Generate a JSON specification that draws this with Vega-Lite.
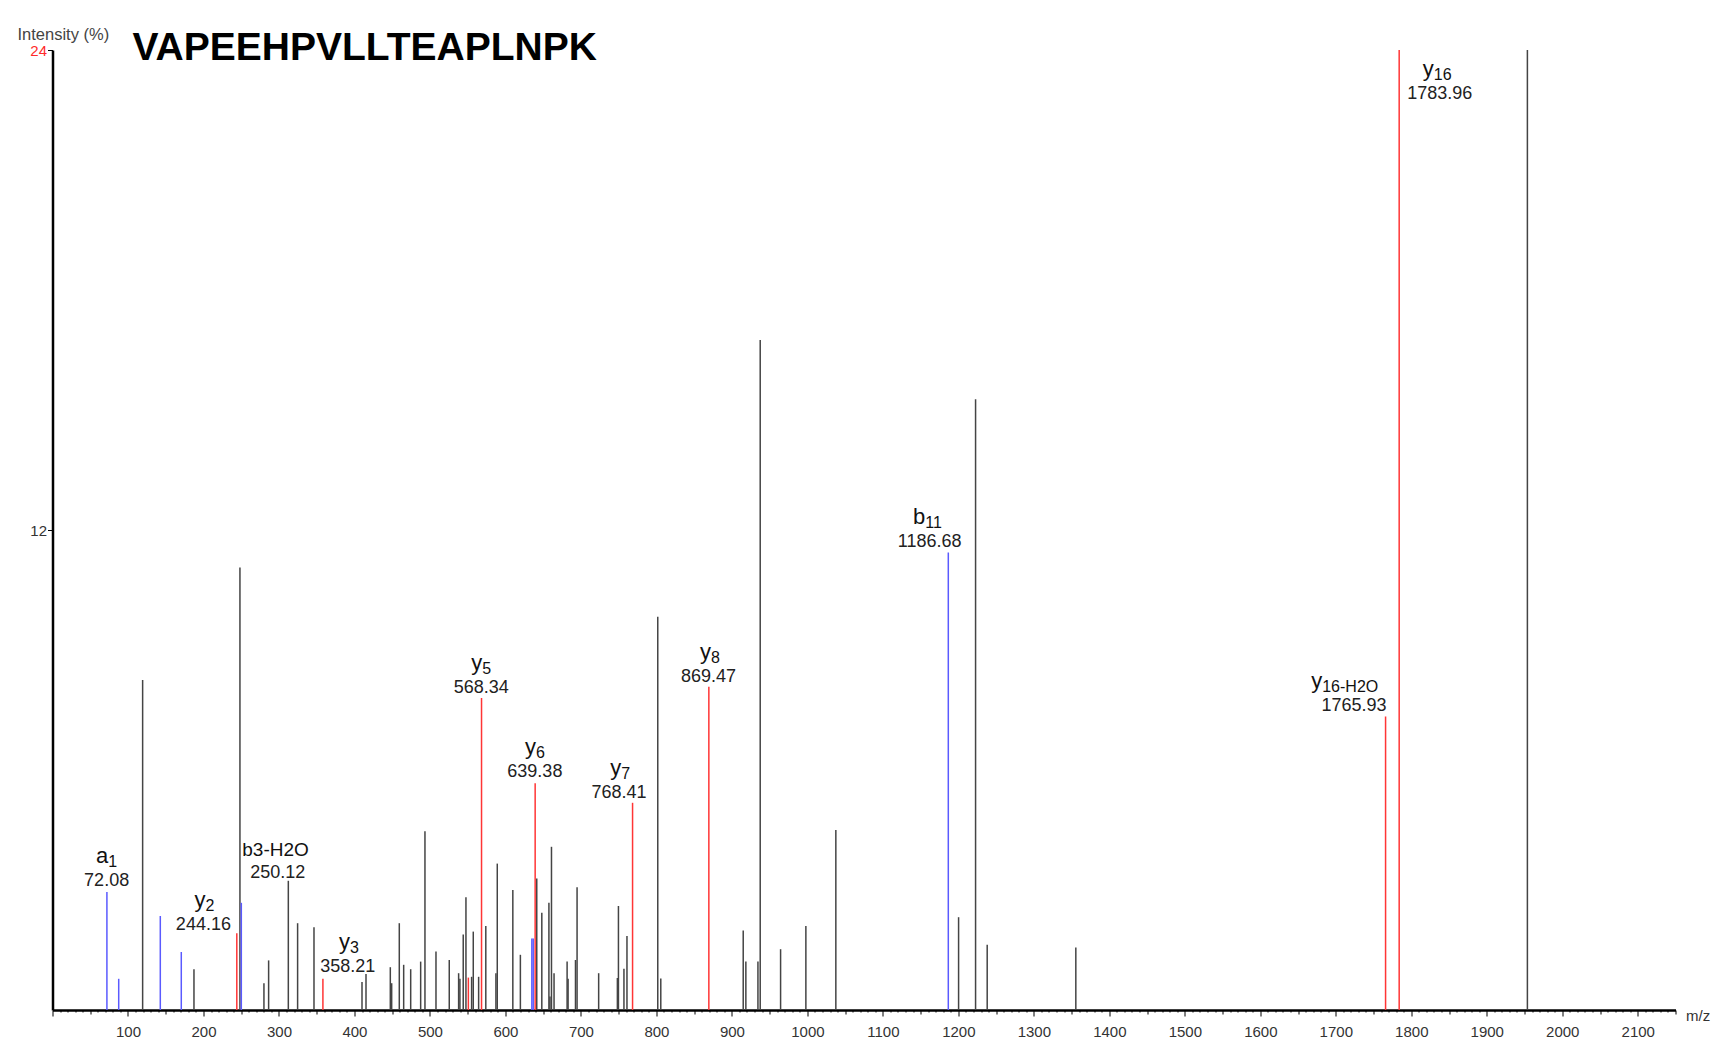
{
  "$schema": "https://vega.github.io/schema/vega-lite/v6.json",
  "width": 1623,
  "height": 960,
  "autosize": "none",
  "padding": {"left": 52.5, "top": 50, "right": 39.5, "bottom": 33},
  "background": "white",
  "config": {"font": "Liberation Sans", "view": {"stroke": null}},
  "title": {"text": "VAPEEHPVLLTEAPLNPK", "anchor": "start", "frame": "group", "fontSize": 39, "fontWeight": "bold", "font": "Liberation Sans", "color": "black", "offset": -61, "dx": 80, "dy": 12, "baseline": "alphabetic"},
  "datasets": {
    "peaks": [
      {"mz": 119.4, "intensity": 8.25, "type": "other"},
      {"mz": 187.4, "intensity": 1.02, "type": "other"},
      {"mz": 248.3, "intensity": 11.06, "type": "other"},
      {"mz": 280.1, "intensity": 0.67, "type": "other"},
      {"mz": 286.3, "intensity": 1.24, "type": "other"},
      {"mz": 312.4, "intensity": 3.23, "type": "other"},
      {"mz": 324.7, "intensity": 2.17, "type": "other"},
      {"mz": 346.4, "intensity": 2.07, "type": "other"},
      {"mz": 410.0, "intensity": 0.70, "type": "other"},
      {"mz": 415.3, "intensity": 0.90, "type": "other"},
      {"mz": 447.5, "intensity": 1.07, "type": "other"},
      {"mz": 449.3, "intensity": 0.67, "type": "other"},
      {"mz": 459.4, "intensity": 2.17, "type": "other"},
      {"mz": 465.2, "intensity": 1.13, "type": "other"},
      {"mz": 474.5, "intensity": 1.02, "type": "other"},
      {"mz": 487.7, "intensity": 1.21, "type": "other"},
      {"mz": 493.4, "intensity": 4.47, "type": "other"},
      {"mz": 508.0, "intensity": 1.46, "type": "other"},
      {"mz": 525.6, "intensity": 1.25, "type": "other"},
      {"mz": 538.0, "intensity": 0.92, "type": "other"},
      {"mz": 539.7, "intensity": 0.78, "type": "other"},
      {"mz": 544.1, "intensity": 1.89, "type": "other"},
      {"mz": 547.7, "intensity": 2.82, "type": "other"},
      {"mz": 555.2, "intensity": 0.83, "type": "other"},
      {"mz": 557.4, "intensity": 1.96, "type": "other"},
      {"mz": 564.5, "intensity": 0.83, "type": "other"},
      {"mz": 574.0, "intensity": 2.10, "type": "other"},
      {"mz": 587.4, "intensity": 0.92, "type": "other"},
      {"mz": 589.2, "intensity": 3.66, "type": "other"},
      {"mz": 609.8, "intensity": 3.00, "type": "other"},
      {"mz": 619.8, "intensity": 1.38, "type": "other"},
      {"mz": 641.5, "intensity": 3.29, "type": "other"},
      {"mz": 648.2, "intensity": 2.43, "type": "other"},
      {"mz": 657.6, "intensity": 2.68, "type": "other"},
      {"mz": 659.0, "intensity": 0.34, "type": "other"},
      {"mz": 661.0, "intensity": 4.08, "type": "other"},
      {"mz": 664.4, "intensity": 0.92, "type": "other"},
      {"mz": 681.7, "intensity": 1.21, "type": "other"},
      {"mz": 683.0, "intensity": 0.78, "type": "other"},
      {"mz": 692.8, "intensity": 1.25, "type": "other"},
      {"mz": 694.9, "intensity": 3.07, "type": "other"},
      {"mz": 723.5, "intensity": 0.92, "type": "other"},
      {"mz": 748.3, "intensity": 0.80, "type": "other"},
      {"mz": 749.7, "intensity": 2.60, "type": "other"},
      {"mz": 757.0, "intensity": 1.03, "type": "other"},
      {"mz": 761.0, "intensity": 1.85, "type": "other"},
      {"mz": 801.8, "intensity": 9.83, "type": "other"},
      {"mz": 805.8, "intensity": 0.79, "type": "other"},
      {"mz": 915.0, "intensity": 1.99, "type": "other"},
      {"mz": 918.5, "intensity": 1.21, "type": "other"},
      {"mz": 934.5, "intensity": 1.21, "type": "other"},
      {"mz": 937.5, "intensity": 16.75, "type": "other"},
      {"mz": 964.5, "intensity": 1.52, "type": "other"},
      {"mz": 998.0, "intensity": 2.10, "type": "other"},
      {"mz": 1037.7, "intensity": 4.50, "type": "other"},
      {"mz": 1200.3, "intensity": 2.32, "type": "other"},
      {"mz": 1222.8, "intensity": 15.27, "type": "other"},
      {"mz": 1238.2, "intensity": 1.63, "type": "other"},
      {"mz": 1355.6, "intensity": 1.56, "type": "other"},
      {"mz": 1953.8, "intensity": 24, "type": "other"},
      {"mz": 72.08, "intensity": 2.95, "type": "b"},
      {"mz": 87.7, "intensity": 0.78, "type": "b"},
      {"mz": 142.8, "intensity": 2.35, "type": "b"},
      {"mz": 170.6, "intensity": 1.45, "type": "b"},
      {"mz": 250.12, "intensity": 2.68, "type": "b"},
      {"mz": 635.0, "intensity": 1.79, "type": "b"},
      {"mz": 636.8, "intensity": 1.79, "type": "b"},
      {"mz": 1186.68, "intensity": 11.44, "type": "b"},
      {"mz": 244.16, "intensity": 1.92, "type": "y"},
      {"mz": 358.21, "intensity": 0.78, "type": "y"},
      {"mz": 550.9, "intensity": 0.81, "type": "y"},
      {"mz": 568.34, "intensity": 7.80, "type": "y"},
      {"mz": 639.38, "intensity": 5.67, "type": "y"},
      {"mz": 768.41, "intensity": 5.18, "type": "y"},
      {"mz": 869.47, "intensity": 8.08, "type": "y"},
      {"mz": 1765.93, "intensity": 7.34, "type": "y"},
      {"mz": 1783.96, "intensity": 24, "type": "y"}
    ],
    "labels": [
      {"letter": "a", "sub": "1", "plain": "", "value": "72.08", "lx": 71.7, "ly": 3.23, "nx": 73.9},
      {"letter": "y", "sub": "2", "plain": "", "value": "244.16", "lx": 199.9, "ly": 2.13, "nx": 202.8},
      {"letter": "", "sub": "", "plain": "b3-H2O", "value": "250.12", "lx": 298.4, "ly": 3.42, "nx": 295.5},
      {"letter": "y", "sub": "3", "plain": "", "value": "358.21", "lx": 391, "ly": 1.08, "nx": 394},
      {"letter": "y", "sub": "5", "plain": "", "value": "568.34", "lx": 568, "ly": 8.05, "nx": 569.4},
      {"letter": "y", "sub": "6", "plain": "", "value": "639.38", "lx": 639, "ly": 5.94, "nx": 640.4},
      {"letter": "y", "sub": "7", "plain": "", "value": "768.41", "lx": 750.5, "ly": 5.42, "nx": 753.4},
      {"letter": "y", "sub": "8", "plain": "", "value": "869.47", "lx": 869, "ly": 8.32, "nx": 872.2},
      {"letter": "b", "sub": "11", "plain": "", "value": "1186.68", "lx": 1161.9, "ly": 11.69, "nx": 1156.2},
      {"letter": "y", "sub": "16-H2O", "plain": "", "value": "1765.93", "lx": 1724, "ly": 7.59, "nx": 1682},
      {"letter": "y", "sub": "16", "plain": "", "value": "1783.96", "lx": 1837.8, "ly": 22.9, "nx": 1829.8}
    ]
  },
  "layer": [
    {
      "data": {"name": "peaks"},
      "mark": {"type": "rule", "strokeWidth": 1.5},
      "encoding": {
        "x": {
          "field": "mz", "type": "quantitative",
          "scale": {"domain": [0, 2150], "nice": false, "zero": false},
          "axis": {
            "tickCount": 215,
            "format": "d",
            "tickSize": {"condition": [{"test": "datum.value % 100 === 0", "value": 6}, {"test": "datum.value % 50 === 0", "value": 4}], "value": 2},
            "labelExpr": "datum.value > 0 && datum.value % 100 === 0 ? datum.label : ''",
            "labelOverlap": false,
            "labelFlush": false,
            "labelFontSize": 15,
            "labelColor": "#333",
            "labelPadding": 8,
            "domainWidth": 2.5,
            "domainColor": "black",
            "tickColor": "black",
            "tickWidth": 1,
            "grid": false,
            "title": "m/z",
            "titleAngle": 0,
            "titleX": 1633,
            "titleY": 5,
            "titleAlign": "left",
            "titleBaseline": "middle",
            "titleFontWeight": "normal",
            "titleFontSize": 15,
            "titleColor": "#333"
          }
        },
        "y": {
          "field": "intensity", "type": "quantitative",
          "scale": {"domain": [0, 24], "nice": false},
          "axis": {
            "values": [12, 24],
            "tickSize": 5,
            "labelPadding": 1,
            "labelFontSize": 15,
            "labelColor": {"condition": {"test": "datum.value === 24", "value": "#ff2a2a"}, "value": "#333"},
            "domainWidth": 2.5,
            "domainColor": "black",
            "tickColor": "black",
            "tickWidth": 1,
            "grid": false,
            "title": "Intensity (%)",
            "titleAngle": 0,
            "titleX": -35.5,
            "titleY": -16,
            "titleAlign": "left",
            "titleBaseline": "middle",
            "titleFontWeight": "normal",
            "titleFontSize": 16.5,
            "titleColor": "#444"
          }
        },
        "y2": {"datum": 0},
        "color": {
          "field": "type", "type": "nominal",
          "scale": {"domain": ["other", "b", "y"], "range": ["#444444", "#5a5aff", "#ff3535"]},
          "legend": null
        }
      }
    },
    {
      "data": {"name": "labels"},
      "mark": {"type": "text", "fontSize": 18, "align": "center", "baseline": "middle", "color": "#222"},
      "encoding": {
        "x": {"field": "lx", "type": "quantitative"},
        "y": {"field": "ly", "type": "quantitative"},
        "text": {"field": "value"}
      }
    },
    {
      "data": {"name": "labels"},
      "mark": {"type": "text", "fontSize": 22, "align": "right", "baseline": "alphabetic", "dy": -18, "color": "#111"},
      "encoding": {
        "x": {"field": "nx", "type": "quantitative"},
        "y": {"field": "ly", "type": "quantitative"},
        "text": {"field": "letter"}
      }
    },
    {
      "data": {"name": "labels"},
      "mark": {"type": "text", "fontSize": 16, "align": "left", "baseline": "alphabetic", "dy": -14, "color": "#111"},
      "encoding": {
        "x": {"field": "nx", "type": "quantitative"},
        "y": {"field": "ly", "type": "quantitative"},
        "text": {"field": "sub"}
      }
    },
    {
      "data": {"name": "labels"},
      "mark": {"type": "text", "fontSize": 19, "align": "center", "baseline": "alphabetic", "dy": -17, "color": "#111"},
      "encoding": {
        "x": {"field": "nx", "type": "quantitative"},
        "y": {"field": "ly", "type": "quantitative"},
        "text": {"field": "plain"}
      }
    }
  ]
}
